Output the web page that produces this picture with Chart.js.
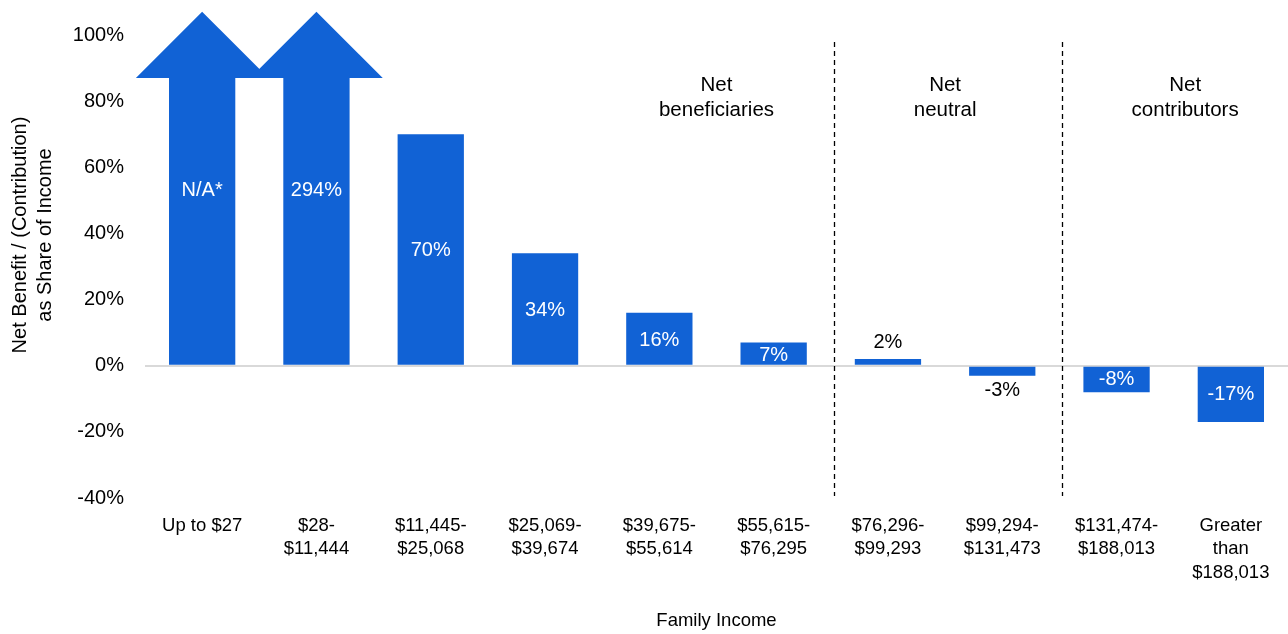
<!DOCTYPE html>
<html>
<head>
<meta charset="utf-8">
<script src="https://cdn.jsdelivr.net/npm/chart.js@4/dist/chart.umd.min.js"></script>
<style>
  html, body { margin: 0; padding: 0; background: #fff; }
  canvas { display: block; }
</style>
</head>
<body>
<canvas id="chart" width="1288" height="634"></canvas>
<script>
// Family income brackets (x axis)
const incomeBrackets = [
  ['Up to $27'],
  ['$28-', '$11,444'],
  ['$11,445-', '$25,068'],
  ['$25,069-', '$39,674'],
  ['$39,675-', '$55,614'],
  ['$55,615-', '$76,295'],
  ['$76,296-', '$99,293'],
  ['$99,294-', '$131,473'],
  ['$131,474-', '$188,013'],
  ['Greater', 'than', '$188,013']
];

// Net benefit / (contribution) as % of income; null = not available
const netShare = [null, 294, 70, 34, 16, 7, 2, -3, -8, -17];
const netShareLabels = ['N/A*', '294%', '70%', '34%', '16%', '7%', '2%', '-3%', '-8%', '-17%'];

// Y axis ticks
const yMin = -40;
const yMax = 100;
const yStep = 20;

// Groups shown above the bars: label lines and the first category of each group
const groupNames = [['Net', 'beneficiaries'], ['Net', 'neutral'], ['Net', 'contributors']];
const groupStarts = [0, 6, 8];

// where the group names sit, in category units
const GROUP_LABEL_AT = [4.5, 6.5, 8.6];

// off-scale bars are drawn as arrows cut at ARROW_CAP with a head up to ARROW_TIP
const ARROW_CAP = 87;
const ARROW_TIP = 107;
const offScale = netShare.map(v => v === null || v > yMax);
const barValues = netShare.map((v, i) => offScale[i] ? ARROW_CAP : v);

const BLUE = '#1162d5';
const FONT = "'Liberation Sans', Arial, sans-serif";

const arrowsAndLabels = {
  id: 'arrowsAndLabels',
  afterDatasetsDraw(chart) {
    const ctx = chart.ctx;
    const y = chart.scales.y;
    const x = chart.scales.x;
    const area = chart.chartArea;
    const bars = chart.getDatasetMeta(0).data;

    // arrow heads
    ctx.save();
    ctx.fillStyle = BLUE;
    bars.forEach((bar, i) => {
      if (!offScale[i]) return;
      const base = y.getPixelForValue(ARROW_CAP);
      const tip = y.getPixelForValue(ARROW_TIP);
      const half = bar.width;
      ctx.beginPath();
      ctx.moveTo(bar.x - half, base);
      ctx.lineTo(bar.x, tip);
      ctx.lineTo(bar.x + half, base);
      ctx.closePath();
      ctx.fill();
    });
    ctx.restore();

    // value labels
    ctx.save();
    ctx.font = '20px ' + FONT;
    ctx.textAlign = 'center';
    ctx.textBaseline = 'middle';
    bars.forEach((bar, i) => {
      const v = netShare[i];
      let py, color;
      if (offScale[i]) {
        py = y.getPixelForValue(ARROW_TIP / 2) + 2;
        color = '#fff';
      } else if (Math.abs(v) >= 5) {
        py = y.getPixelForValue(v / 2) + 1;
        color = '#fff';
      } else if (v >= 0) {
        py = y.getPixelForValue(v) - 17;
        color = '#000';
      } else {
        py = y.getPixelForValue(v) + 15;
        color = '#000';
      }
      ctx.fillStyle = color;
      ctx.fillText(netShareLabels[i], bar.x, py);
    });
    ctx.restore();

    // dashed group dividers
    ctx.save();
    ctx.strokeStyle = '#000';
    ctx.lineWidth = 1.3;
    ctx.setLineDash([5, 4]);
    for (let g = 1; g < groupStarts.length; g++) {
      const px = Math.round(x.getPixelForValue(groupStarts[g] - 0.5)) + 3.5;
      ctx.beginPath();
      ctx.moveTo(px, area.top + 7);
      ctx.lineTo(px, area.bottom - 2);
      ctx.stroke();
    }
    ctx.restore();

    // group names
    ctx.save();
    ctx.font = '20.5px ' + FONT;
    ctx.fillStyle = '#000';
    ctx.textAlign = 'center';
    ctx.textBaseline = 'middle';
    groupNames.forEach((lines, g) => {
      const cx = x.getPixelForValue(GROUP_LABEL_AT[g]);
      const top = y.getPixelForValue(85);
      lines.forEach((t, k) => ctx.fillText(t, cx, top + 1 + k * 25));
    });
    ctx.restore();
  },
  afterDraw(chart) {
    // y axis title, two rotated lines
    const ctx = chart.ctx;
    ctx.save();
    ctx.font = '20px ' + FONT;
    ctx.fillStyle = '#000';
    ctx.textAlign = 'center';
    ctx.textBaseline = 'middle';
    ctx.translate(0, 235);
    ctx.rotate(-Math.PI / 2);
    ctx.fillText('Net Benefit / (Contribution)', 0, 20);
    ctx.fillText('as Share of Income', 0, 45);
    ctx.restore();
  }
};

new Chart(document.getElementById('chart').getContext('2d'), {
  type: 'bar',
  data: {
    labels: incomeBrackets,
    datasets: [{
      data: barValues,
      backgroundColor: BLUE,
      borderWidth: 0,
      barPercentage: 0.58,
      categoryPercentage: 1.0
    }]
  },
  options: {
    responsive: false,
    animation: false,
    devicePixelRatio: 1,
    layout: { padding: { top: 35, right: 0, bottom: 2, left: 0 } },
    plugins: {
      legend: { display: false },
      tooltip: { enabled: false }
    },
    scales: {
      x: {
        grid: { display: false },
        border: { display: false },
        ticks: {
          color: '#000',
          font: { family: FONT, size: 18.5, lineHeight: 1.27 },
          padding: 8,
          maxRotation: 0,
          minRotation: 0,
          autoSkip: false
        },
        title: {
          display: true,
          text: 'Family Income',
          color: '#000',
          font: { family: FONT, size: 18.5 },
          padding: { top: 0, bottom: 0 }
        },
        afterFit(scale) { scale.height = 134; }
      },
      y: {
        min: yMin,
        max: yMax,
        border: { display: false },
        grid: {
          drawTicks: false,
          lineWidth: 2,
          color: c => c.tick && c.tick.value === 0 ? '#d9d9d9' : 'rgba(0,0,0,0)'
        },
        ticks: {
          stepSize: yStep,
          color: '#000',
          font: { family: FONT, size: 20 },
          padding: 21,
          callback: v => v + '%'
        },
        afterFit(scale) { scale.width = 145; }
      }
    }
  },
  plugins: [arrowsAndLabels]
});
</script>
</body>
</html>
